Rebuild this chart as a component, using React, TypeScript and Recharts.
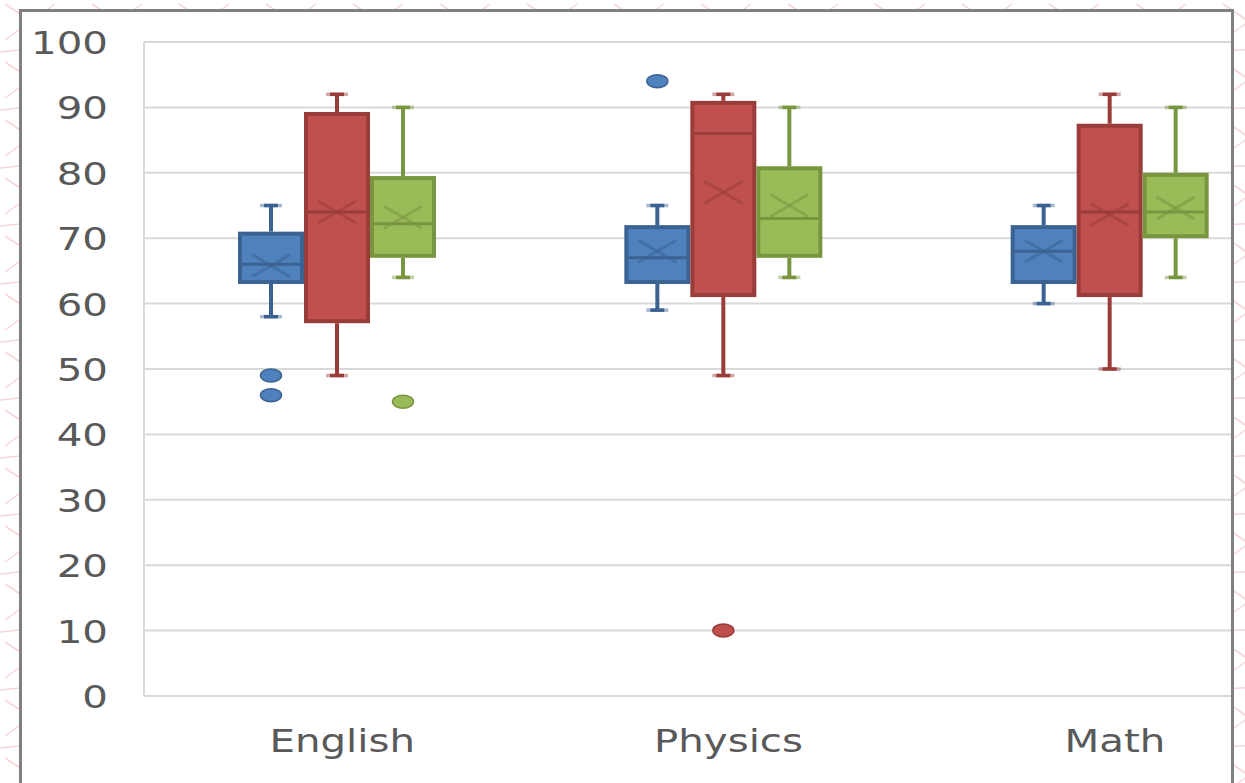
import React from 'react';
import { ComposedChart, Bar, XAxis, YAxis, CartesianGrid } from 'recharts';

const categories = ['English', 'Physics', 'Math'];
const yTicks = [0, 10, 20, 30, 40, 50, 60, 70, 80, 90, 100];

// Series 1 (blue)
const blueMin = [58, 59, 60];
const blueQ1 = [63, 63, 63];
const blueMedian = [66, 67, 68];
const blueQ3 = [71, 72, 72];
const blueMax = [75, 75, 75];
const blueMean = [65.8, 68, 68];
const blueOutliers = [[49, 46], [94], []];

// Series 2 (red)
const redMin = [49, 49, 50];
const redQ1 = [57, 61, 61];
const redMedian = [74, 86, 74];
const redQ3 = [89.3, 91, 87.5];
const redMax = [92, 92, 92];
const redMean = [74, 77, 73.6];
const redOutliers = [[], [10], []];

// Series 3 (green)
const greenMin = [64, 64, 64];
const greenQ1 = [67, 67, 70];
const greenMedian = [72.2, 73, 74];
const greenQ3 = [79.5, 81, 80];
const greenMax = [90, 90, 90];
const greenMean = [73.2, 75, 74.6];
const greenOutliers = [[45], [], []];

type Series = {
  key: string;
  min: number[];
  q1: number[];
  median: number[];
  q3: number[];
  max: number[];
  mean: number[];
  outliers: number[][];
  fill: string;
  stroke: string;
};

const series: Series[] = [
  { key: 'blue', min: blueMin, q1: blueQ1, median: blueMedian, q3: blueQ3, max: blueMax, mean: blueMean, outliers: blueOutliers, fill: '#4F81BD', stroke: '#3B6392' },
  { key: 'red', min: redMin, q1: redQ1, median: redMedian, q3: redQ3, max: redMax, mean: redMean, outliers: redOutliers, fill: '#C0504D', stroke: '#993C3A' },
  { key: 'green', min: greenMin, q1: greenQ1, median: greenMedian, q3: greenQ3, max: greenMax, mean: greenMean, outliers: greenOutliers, fill: '#9BBB59', stroke: '#789540' },
];

const data = categories.map((c, i) => {
  const row: any = { name: c };
  series.forEach((s) => {
    row[s.key] = [s.min[i], s.max[i]];
  });
  return row;
});

const makeShape = (s: Series) => (props: any) => {
  const { x, y, width, height, index } = props;
  const i = index;
  const lo = s.min[i];
  const hi = s.max[i];
  const top = Math.min(y, y + height);
  const bot = Math.max(y, y + height);
  const pix = (v: number) => bot - ((v - lo) / (hi - lo)) * (bot - top);
  const cx = x + width / 2;
  const sw = 4;
  const yq3 = pix(s.q3[i]);
  const yq1 = pix(s.q1[i]);
  const ymed = pix(s.median[i]);
  const ymean = pix(s.mean[i]);
  const ymax = pix(hi);
  const ymin = pix(lo);
  return (
    <g>
      <line x1={cx} x2={cx} y1={ymax} y2={yq3} stroke={s.stroke} strokeWidth={4} />
      <line x1={cx} x2={cx} y1={yq1} y2={ymin} stroke={s.stroke} strokeWidth={4} />
      <line x1={cx - 11} x2={cx + 11} y1={ymax} y2={ymax} stroke={s.stroke} strokeWidth={3.5} strokeOpacity={0.45} />
      <line x1={cx - 7} x2={cx + 7} y1={ymax} y2={ymax} stroke={s.stroke} strokeWidth={3.5} />
      <line x1={cx - 11} x2={cx + 11} y1={ymin} y2={ymin} stroke={s.stroke} strokeWidth={3.5} strokeOpacity={0.45} />
      <line x1={cx - 7} x2={cx + 7} y1={ymin} y2={ymin} stroke={s.stroke} strokeWidth={3.5} />
      <rect
        x={x + sw / 2}
        y={yq3 + sw / 2}
        width={width - sw}
        height={yq1 - yq3 - sw}
        fill={s.fill}
        stroke={s.stroke}
        strokeWidth={sw}
      />
      <line x1={x + sw} x2={x + width - sw} y1={ymed} y2={ymed} stroke={s.stroke} strokeWidth={3} />
      <g stroke={s.stroke} strokeWidth={3} strokeOpacity={0.55}>
        <line x1={cx - 19} y1={ymean - 11} x2={cx + 19} y2={ymean + 11} />
        <line x1={cx - 19} y1={ymean + 11} x2={cx + 19} y2={ymean - 11} />
      </g>
      {s.outliers[i].map((v, k) => (
        <ellipse key={k} cx={cx} cy={pix(v)} rx={10.5} ry={6.5} fill={s.fill} stroke={s.stroke} strokeWidth={1.5} />
      ))}
    </g>
  );
};

const YTick = (props: any) => {
  const { x, y, payload } = props;
  return (
    <text
      transform={`translate(${x - 36},${y + 12}) scale(1.26,1)`}
      textAnchor="end"
      fontSize={32}
      fill="#595959"
      fontFamily="DejaVu Sans"
    >
      {payload.value}
    </text>
  );
};

const XTick = (props: any) => {
  const { x, y, payload } = props;
  return (
    <text
      transform={`translate(${x + 5},${y + 56}) scale(1.26,1)`}
      textAnchor="middle"
      fontSize={32}
      fill="#595959"
      fontFamily="DejaVu Sans"
    >
      {payload.value}
    </text>
  );
};

export default function App() {
  return (
    <div style={{ position: 'relative', width: 1245, height: 783, overflow: 'hidden', background: '#ffffff' }}>
      <style>{`body{margin:0}`}</style>
      <svg width={1245} height={783} style={{ position: 'absolute', left: 0, top: 0 }}>
        <defs>
          <pattern id="bgpat" width={87} height={58} patternUnits="userSpaceOnUse">
            <path d="M5 4 Q 30 20 55 40 M 55 4 Q 30 22 5 40 M 0 52 Q 40 46 87 54" stroke="#f6d6d6" strokeWidth={1.5} fill="none" />
          </pattern>
        </defs>
        <rect x={0} y={0} width={1245} height={783} fill="url(#bgpat)" />
      </svg>
      <div
        style={{
          position: 'absolute',
          left: 19,
          top: 9,
          width: 1215,
          height: 900,
          border: '3px solid #808080',
          boxSizing: 'border-box',
          background: '#ffffff',
          overflow: 'hidden',
        }}
      >
        <div style={{ position: 'absolute', left: -22, top: -12 }}>
          <ComposedChart
            width={1320}
            height={783}
            data={data}
            margin={{ top: 42, right: 17, bottom: 27, left: 44 }}
            barGap={0}
          >
            <CartesianGrid vertical={false} stroke="#D9D9D9" strokeWidth={2} />
            <XAxis
              dataKey="name"
              height={60}
              tickLine={false}
              tickSize={0}
              tickMargin={0}
              axisLine={{ stroke: '#D9D9D9', strokeWidth: 2 }}
              tick={<XTick />}
              interval={0}
            />
            <YAxis
              width={100}
              domain={[0, 100]}
              ticks={yTicks}
              tickLine={false}
              tickSize={0}
              tickMargin={0}
              axisLine={{ stroke: '#D9D9D9', strokeWidth: 2 }}
              tick={<YTick />}
              interval={0}
            />
            {series.map((s) => (
              <Bar
                key={s.key}
                dataKey={s.key}
                barSize={66}
                fill={s.fill}
                isAnimationActive={false}
                shape={makeShape(s)}
              />
            ))}
          </ComposedChart>
        </div>
      </div>
    </div>
  );
}
